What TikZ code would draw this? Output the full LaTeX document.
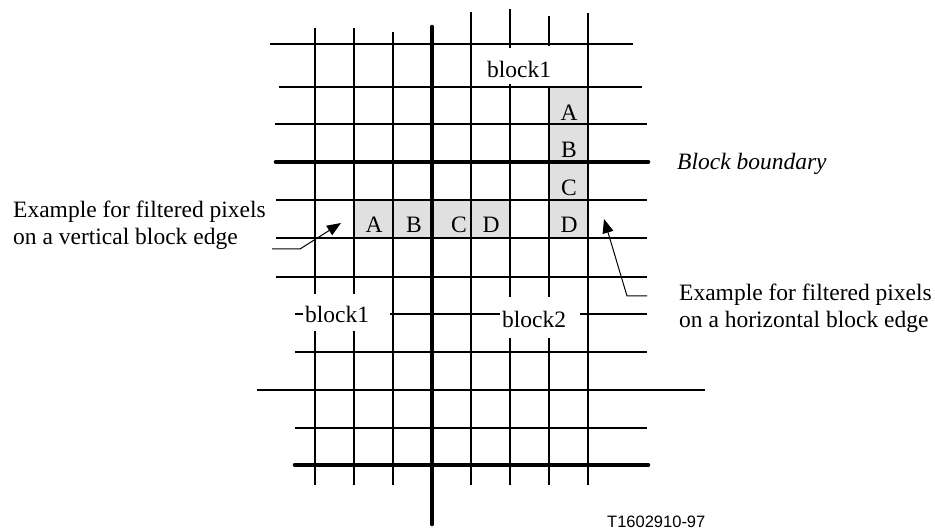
\documentclass[tikz,border=0pt]{standalone}
\usepackage{fontspec}
\setmainfont{Liberation Serif}
\newfontfamily\arialfont{Liberation Sans}
\usetikzlibrary{arrows.meta}
\definecolor{cellgray}{HTML}{E0E0E0}
\tikzset{
  thinline/.style={line width=2.4pt},
  thickline/.style={line width=4.6pt, line cap=round},
  lbl/.style={inner sep=0pt, font=\fontsize{23.5}{27}\selectfont},
  cell/.style={inner sep=0pt, font=\fontsize{23.5}{27}\selectfont},
  pointer/.style={line width=1pt, -{Triangle[length=14pt,width=11pt]}},
  shade/.style={fill=cellgray, draw=none}
}
\begin{document}
\begin{tikzpicture}[x=1pt,y=-1pt]
\useasboundingbox (0,0) rectangle (935,529);
% shaded cells
\path[shade] (549,87) rectangle (588,238);
\path[shade] (354,200) rectangle (510,238);
% horizontal lines
\draw[thinline] (270,44) -- (633,44);
\draw[thinline] (279,87) -- (642,87);
\draw[thinline] (275,124) -- (647,124);
\draw[thickline] (276,162) -- (648,162);
\draw[thinline] (276,200) -- (647,200);
\draw[thinline] (276,238) -- (647,238);
\draw[thinline] (276,277) -- (647,277);
\draw[thinline] (295,314) -- (303,314);
\draw[thinline] (390,314) -- (500,314);
\draw[thinline] (580,314) -- (647,314);
\draw[thinline] (295,352) -- (647,352);
\draw[thinline] (257,390) -- (705,390);
\draw[thinline] (295,428) -- (647,428);
\draw[thickline] (295,465) -- (648,465);
% vertical lines
\draw[thinline] (315,28) -- (315,294) (315,331) -- (315,485);
\draw[thinline] (354,28) -- (354,294) (354,331) -- (354,485);
\draw[thinline] (393,32) -- (393,485);
\draw[thickline] (432,27) -- (432,524);
\draw[thinline] (471,12) -- (471,485);
\draw[thinline] (510,9) -- (510,48) (510,84) -- (510,297) (510,338) -- (510,485);
\draw[thinline] (549,16) -- (549,46) (549,87) -- (549,297) (549,338) -- (549,485);
\draw[thinline] (588,13) -- (588,485);
% cell letters
\node[cell] (cA) at (569,113) {A};
\node[cell] (cB) at (569,150) {B};
\node[cell] (cC) at (569,188) {C};
\node[cell] (cD) at (569,225) {D};
\node[cell] (rA) at (374,225) {A};
\node[cell] (rB) at (414,225) {B};
\node[cell] (rC) at (459,225) {C};
\node[cell] (rD) at (491,225) {D};
% block labels
\node[lbl, anchor=base west] (b1top) at (487,78) {block1};
\node[lbl, anchor=base west] (b1low) at (305,323) {block1};
\node[lbl, anchor=base west] (b2low) at (502,328) {block2};
\node[lbl, anchor=base west] (bb) at (677,170) {\itshape Block boundary};
% explanations
\node[lbl, anchor=base west] (lt1) at (13,218) {Example for filtered pixels};
\node[lbl, anchor=base west] (lt2) at (13,245) {on a vertical block edge};
\node[lbl, anchor=base west] (rt1) at (679,301) {Example for filtered pixels};
\node[lbl, anchor=base west] (rt2) at (679,328) {on a horizontal block edge};
\node[inner sep=0pt, anchor=base west, font=\arialfont\fontsize{16.5}{18}\selectfont] (fig) at (607,527) {T1602910-97};
% pointers
\coordinate (la0) at (272,249);
\coordinate (la1) at (300,249);
\coordinate (la2) at (341,223);
\draw[pointer] (la0) -- (la1) -- (la2);
\coordinate (ra0) at (647,296);
\coordinate (ra1) at (627,296);
\coordinate (ra2) at (604,219);
\draw[pointer] (ra0) -- (ra1) -- (ra2);
\end{tikzpicture}
\end{document}
